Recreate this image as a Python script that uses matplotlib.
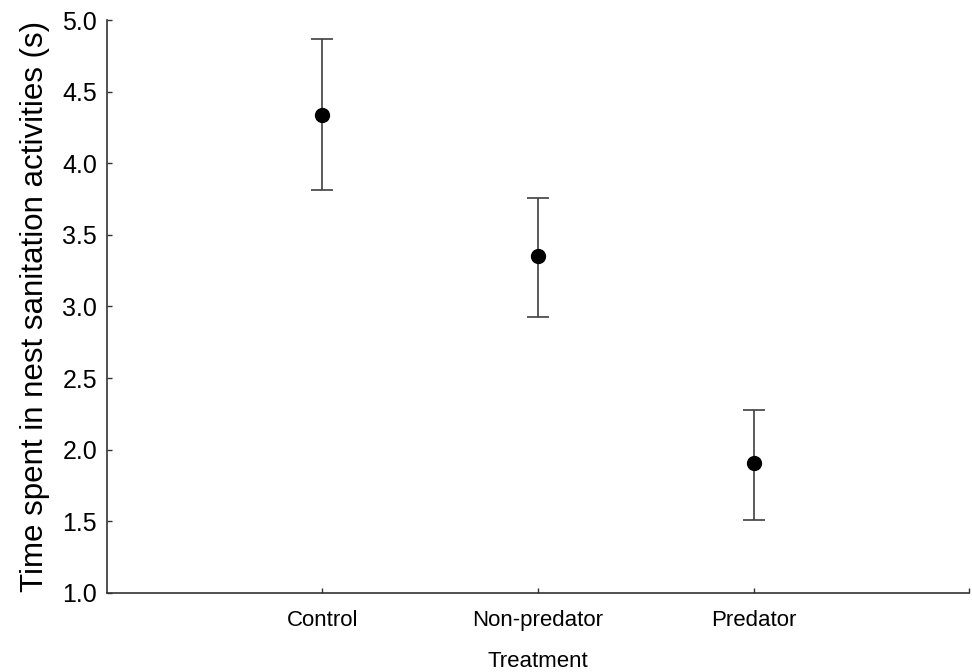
import matplotlib
matplotlib.use("Agg")
import matplotlib.pyplot as plt

treatments = ["Control", "Non-predator", "Predator"]
means = [4.34, 3.35, 1.91]
upper = [4.87, 3.76, 2.28]
lower = [3.81, 2.93, 1.51]

plt.rcParams["font.family"] = ["Liberation Sans", "DejaVu Sans"]

fig = plt.figure(figsize=(9.72, 6.72), dpi=100)
ax = fig.add_axes([0.110, 0.1176, 0.887, 0.8526])

xs = list(range(1, len(treatments) + 1))
yerr = [[m - lo for m, lo in zip(means, lower)],
        [hi - m for m, hi in zip(means, upper)]]
ax.errorbar(xs, means, yerr=yerr, fmt="o", color="black", ms=10,
            ecolor="#404040", elinewidth=1.2, capsize=8, capthick=1.2)

ax.set_xlim(0, 4)
ax.set_ylim(1.0, 5.0)
# tick at the far right end of the axis, no label
ax.set_xticks(xs + [4])
ax.set_xticklabels(treatments + [""])
ax.set_yticks([1.0, 1.5, 2.0, 2.5, 3.0, 3.5, 4.0, 4.5, 5.0])
ax.yaxis.set_major_formatter(matplotlib.ticker.FormatStrFormatter("%.1f"))

for side in ["top", "right"]:
    ax.spines[side].set_visible(False)
for side in ["left", "bottom"]:
    ax.spines[side].set_color("#333333")
    ax.spines[side].set_linewidth(1.2)

ax.tick_params(direction="in", length=3.5, width=1.0, color="#333333",
               labelsize=18, pad=7)
ax.tick_params(axis="x", pad=12, labelsize=16)

ax.set_xlabel("Treatment", fontsize=16, labelpad=15)
ax.set_ylabel("Time spent in nest sanitation activities (s)", fontsize=22.5, labelpad=9)

fig.savefig("out.png", dpi=100)
